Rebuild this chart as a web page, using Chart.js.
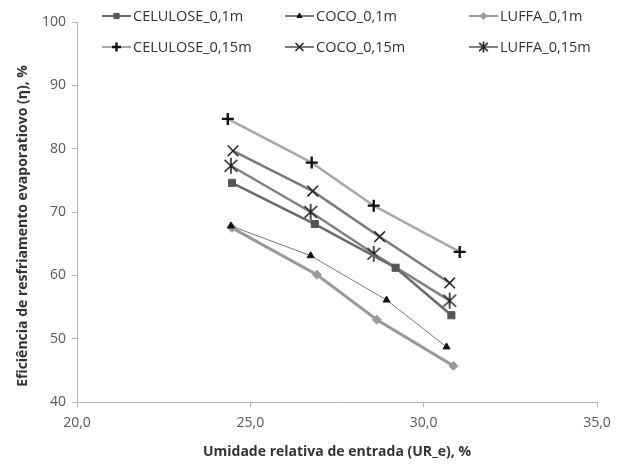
<!DOCTYPE html>
<html>
<head>
<meta charset="utf-8">
<script src="https://cdn.jsdelivr.net/npm/chart.js@4"></script>
<style>
  html, body { margin: 0; padding: 0; background: #fff; }
  #wrap { width: 630px; height: 464px; position: relative; }
</style>
</head>
<body>
<div id="wrap"><canvas id="chart"></canvas></div>
<script>
// --- data ---
const seriesNames = ['CELULOSE_0,1m', 'COCO_0,1m', 'LUFFA_0,1m', 'CELULOSE_0,15m', 'COCO_0,15m', 'LUFFA_0,15m'];

const celulose01X = [24.47, 26.86, 29.19, 30.8];
const celulose01Y = [74.6, 68.1, 61.2, 53.7];
const coco01X = [24.44, 26.74, 28.93, 30.66];
const coco01Y = [67.8, 63.1, 56.1, 48.7];
const luffa01X = [24.47, 26.92, 28.65, 30.86];
const luffa01Y = [67.5, 60.1, 53.0, 45.7];
const celulose015X = [24.35, 26.77, 28.56, 31.04];
const celulose015Y = [84.7, 77.8, 71.0, 63.7];
const coco015X = [24.5, 26.8, 28.73, 30.75];
const coco015Y = [79.65, 73.3, 66.1, 58.8];
const luffa015X = [24.44, 26.74, 28.56, 30.75];
const luffa015Y = [77.3, 70.0, 63.4, 56.0];

const xTicks = [20, 25, 30, 35];
const yTicks = [40, 50, 60, 70, 80, 90, 100];

const yTitle = 'Eficiência de resfriamento evaporatiovo (η), %';
const xTitle = 'Umidade relativa de entrada (UR_e), %';

const FONT = '"Open Sans", sans-serif';

function pts(xs, ys) { return xs.map((x, i) => ({ x: x, y: ys[i] })); }

// asterisk marker (x with a vertical bar), as in the original
function asterisk(r, color, lw) {
  const c = document.createElement('canvas');
  const s = Math.ceil(r * 2 + 4);
  c.width = s; c.height = s;
  const g = c.getContext('2d');
  const m = s / 2;
  g.strokeStyle = color; g.lineWidth = lw;
  g.beginPath();
  g.moveTo(m - r * 0.8, m - r * 0.75); g.lineTo(m + r * 0.8, m + r * 0.75);
  g.moveTo(m + r * 0.8, m - r * 0.75); g.lineTo(m - r * 0.8, m + r * 0.75);
  g.moveTo(m, m - r); g.lineTo(m, m + r);
  g.stroke();
  return c;
}

const styles = [
  { line: '#6b6b6b', point: '#555555', style: 'rect', radius: 5, width: 2.5, bw: 1 },
  { line: '#7a7a7a', point: '#111111', style: 'triangle', radius: 4, width: 1, bw: 1 },
  { line: '#9a9a9a', point: '#9a9a9a', style: 'rectRot', radius: 4.5, width: 3, bw: 1 },
  { line: '#a8a8a8', point: '#111111', style: 'cross', radius: 6, width: 2.5, bw: 2.4 },
  { line: '#7a7a7a', point: '#222222', style: 'crossRot', radius: 7.5, width: 2.5, bw: 1.5 },
  { line: '#808080', point: '#222222', style: asterisk(8, '#222', 1.6), radius: 8, width: 2.5, bw: 1 }
];

const seriesData = [
  pts(celulose01X, celulose01Y), pts(coco01X, coco01Y), pts(luffa01X, luffa01Y),
  pts(celulose015X, celulose015Y), pts(coco015X, coco015Y), pts(luffa015X, luffa015Y)
];

const datasets = seriesNames.map((name, i) => ({
  label: name,
  data: seriesData[i],
  showLine: true,
  borderColor: styles[i].line,
  borderWidth: styles[i].width,
  pointStyle: styles[i].style,
  pointRadius: styles[i].radius,
  pointBackgroundColor: styles[i].point,
  pointBorderColor: styles[i].point,
  pointBorderWidth: styles[i].bw,
  tension: 0
}));

// legend in 3 columns x 2 rows, like the original
const legendCols = [102, 285, 469];
const legendRows = [16, 47];
const legendStar = asterisk(5.5, '#222', 1.6);
const gridLegend = {
  id: 'gridLegend',
  afterDraw(chart) {
    const ctx = chart.ctx;
    ctx.save();
    chart.data.datasets.forEach((ds, i) => {
      const x = legendCols[i % 3];
      const y = legendRows[Math.floor(i / 3)];
      ctx.strokeStyle = ds.borderColor;
      ctx.lineWidth = 2;
      ctx.beginPath();
      ctx.moveTo(x, y);
      ctx.lineTo(x + 29, y);
      ctx.stroke();
      ctx.fillStyle = ds.pointBackgroundColor;
      ctx.strokeStyle = ds.pointBorderColor;
      ctx.lineWidth = ds.pointBorderWidth;
      const ps = i === 5 ? legendStar : ds.pointStyle;
      Chart.helpers.drawPoint(ctx, { pointStyle: ps, radius: ds.pointRadius * 0.75, rotation: 0, borderWidth: ds.pointBorderWidth }, x + 14.5, y);
      ctx.fillStyle = '#333';
      ctx.font = '14.5px ' + FONT;
      ctx.textAlign = 'left';
      ctx.textBaseline = 'middle';
      ctx.fillText(ds.label, x + 31, y + 1);
    });
    // rotated y title, placed a little below the plot centre as in the original
    ctx.translate(23, 226);
    ctx.rotate(-Math.PI / 2);
    ctx.fillStyle = '#333';
    ctx.font = 'bold 14px ' + FONT;
    ctx.textAlign = 'center';
    ctx.textBaseline = 'middle';
    ctx.fillText(yTitle, 0, 0);
    ctx.restore();
  }
};

new Chart(document.getElementById('chart'), {
  type: 'scatter',
  data: { datasets },
  options: {
    responsive: true,
    maintainAspectRatio: false,
    animation: false,
    layout: { padding: { top: 22, right: 33, left: 0, bottom: 0 } },
    plugins: { legend: { display: false }, tooltip: { enabled: false } },
    scales: {
      x: {
        type: 'linear', min: 20, max: 35,
        afterBuildTicks: s => { s.ticks = xTicks.map(v => ({ value: v })); },
        afterFit: s => { s.height = 62; },
        grid: { drawOnChartArea: false, drawTicks: true, tickLength: 5, color: '#b5b5b5' },
        border: { color: '#b5b5b5', width: 1 },
        ticks: {
          color: '#595959', font: { family: FONT, size: 14 }, padding: 8,
          callback: v => v.toFixed(1).replace('.', ',')
        },
        title: {
          display: true, text: xTitle,
          color: '#333', font: { family: FONT, size: 14, weight: 'bold' }, padding: { top: 3 }
        }
      },
      y: {
        type: 'linear', min: 40, max: 100,
        afterBuildTicks: s => { s.ticks = yTicks.map(v => ({ value: v })); },
        afterFit: s => { s.width = 77; },
        grid: { drawOnChartArea: false, drawTicks: true, tickLength: 5, color: '#b5b5b5' },
        border: { color: '#b5b5b5', width: 1 },
        ticks: { color: '#595959', font: { family: FONT, size: 14 }, padding: 6 },
        title: { display: false }
      }
    }
  },
  plugins: [gridLegend]
});
</script>
</body>
</html>
